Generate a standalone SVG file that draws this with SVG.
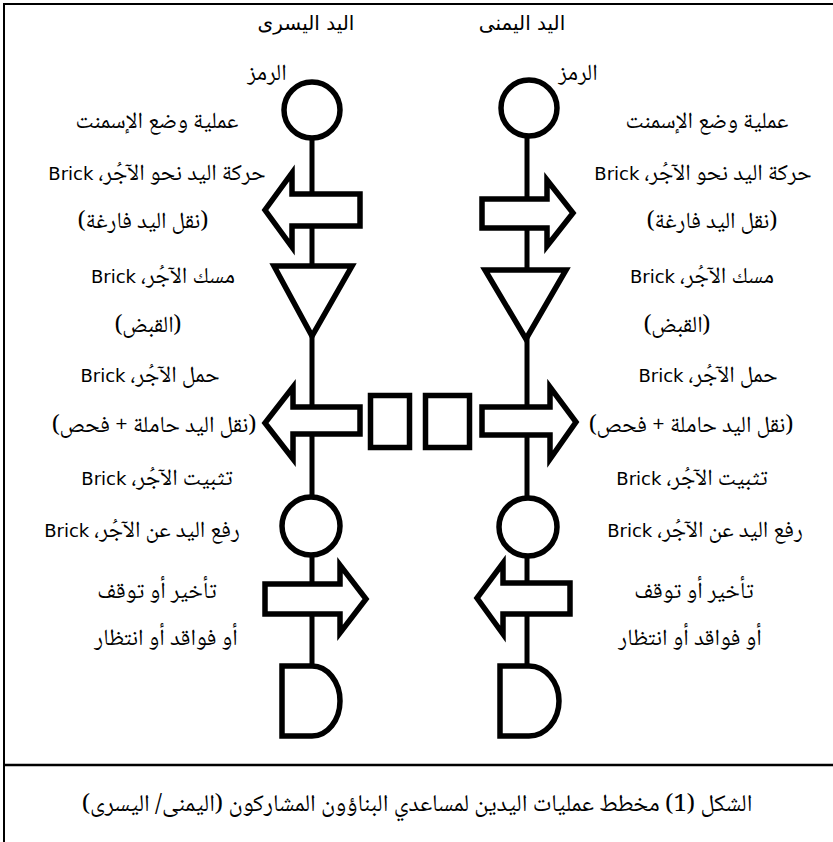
<svg xmlns="http://www.w3.org/2000/svg" width="833" height="842" viewBox="0 0 833 842">
  <style>
    .shape { fill: #fff; stroke: #000; stroke-width: 5.5; stroke-linejoin: miter; stroke-miterlimit: 10; }
    .link { stroke: #000; stroke-width: 5; fill: none; }
    .frame { fill: none; stroke: #000; stroke-width: 2; }
    .ar { font-family: 'Noto Naskh Arabic', 'Amiri', 'Scheherazade New', 'Liberation Serif', 'DejaVu Sans', serif; font-size: 23px; fill: #000; direction: rtl; text-anchor: middle; }
    .hd { font-family: 'DejaVu Sans', 'Noto Sans', sans-serif; font-size: 20px; fill: #000; direction: rtl; text-anchor: middle; }
    .en { font-family: 'DejaVu Sans', sans-serif; font-size: 18px; }
    .cap { font-size: 24px; }
  </style>

  <!-- outer frame and caption divider -->
  <rect class="frame" x="4" y="4" width="850" height="860"/>
  <line x1="4" y1="765" x2="833" y2="765" stroke="#000" stroke-width="2.5"/>

  <!-- connectors: the two vertical process lines -->
  <g id="connectors">
    <line class="link" x1="312" y1="136" x2="312" y2="666"/>
    <line class="link" x1="527" y1="134" x2="527" y2="666"/>
  </g>

  <!-- left hand -->
  <g id="left-operation"><circle class="shape" cx="312" cy="110" r="28"/></g>
  <g id="left-transport-empty"><polygon class="shape" points="360,194 292,194 292,173 265,210 292,247 292,226 360,226"/></g>
  <g id="left-grasp"><polygon class="shape" points="274,266 352,266 312,336"/></g>
  <g id="left-transport-loaded"><polygon class="shape" points="360,407 293,407 293,387 265,423 293,459 293,434 360,434"/></g>
  <g id="left-release"><circle class="shape" cx="311" cy="526" r="29"/></g>
  <g id="left-move"><polygon class="shape" points="265,584 340,584 340,565 366,599 340,633 340,614 265,614"/></g>
  <g id="left-delay"><path class="shape" d="M282,666 H312 A28,35 0 0 1 312,736 H282 Z"/></g>

  <!-- hold symbols between the hands -->
  <g id="hold-left"><rect class="shape" x="370.5" y="395.5" width="39" height="52"/></g>
  <g id="hold-right"><rect class="shape" x="425.5" y="395.5" width="44" height="52"/></g>

  <!-- right hand -->
  <g id="right-operation"><circle class="shape" cx="529" cy="108" r="28"/></g>
  <g id="right-transport-empty"><polygon class="shape" points="482,199 547,199 547,180 573,213 547,246 547,228 482,228"/></g>
  <g id="right-grasp"><polygon class="shape" points="485,270 566,270 526,339"/></g>
  <g id="right-transport-loaded"><polygon class="shape" points="482,407 550,407 550,387 576,422 550,459 550,435 482,435"/></g>
  <g id="right-release"><circle class="shape" cx="528" cy="527" r="29"/></g>
  <g id="right-move"><polygon class="shape" points="570,583 503,583 503,563 477,598 503,634 503,614 570,614"/></g>
  <g id="right-delay"><path class="shape" d="M500,666 H529 A30,35 0 0 1 529,736 H500 Z"/></g>

  <!-- left column labels -->
  <g id="left-labels">
    <text class="hd" x="306" y="30">اليد اليسرى</text>
    <text class="ar" x="267" y="80">الرمز</text>
    <text class="ar" x="157" y="128">عملية وضع الإسمنت</text>
    <text class="ar" x="157" y="180">حركة اليد نحو الآجُر، <tspan class="en">Brick</tspan></text>
    <text class="ar" x="143" y="228">(نقل اليد فارغة)</text>
    <text class="ar" x="163" y="283">مسك الآجُر، <tspan class="en">Brick</tspan></text>
    <text class="ar" x="148" y="332">(القبض)</text>
    <text class="ar" x="150" y="382">حمل الآجُر،  <tspan class="en">Brick</tspan></text>
    <text class="ar" x="154" y="432">(نقل اليد حاملة + فحص)</text>
    <text class="ar" x="157" y="485">تثبيت الآجُر،  <tspan class="en">Brick</tspan></text>
    <text class="ar" x="142" y="537">رفع اليد عن الآجُر،  <tspan class="en">Brick</tspan></text>
    <text class="ar" x="157" y="598">تأخير أو توقف</text>
    <text class="ar" x="166" y="645">أو فواقد أو انتظار</text>
  </g>

  <!-- right column labels -->
  <g id="right-labels">
    <text class="hd" x="522" y="30">اليد اليمنى</text>
    <text class="ar" x="578" y="80">الرمز</text>
    <text class="ar" x="707" y="128">عملية وضع الإسمنت</text>
    <text class="ar" x="703" y="180">حركة اليد نحو الآجُر، <tspan class="en">Brick</tspan></text>
    <text class="ar" x="712" y="228">(نقل اليد فارغة)</text>
    <text class="ar" x="702" y="283">مسك الآجُر، <tspan class="en">Brick</tspan></text>
    <text class="ar" x="677" y="332">(القبض)</text>
    <text class="ar" x="708" y="382">حمل الآجُر،  <tspan class="en">Brick</tspan></text>
    <text class="ar" x="691" y="432">(نقل اليد حاملة + فحص)</text>
    <text class="ar" x="692" y="485">تثبيت الآجُر،  <tspan class="en">Brick</tspan></text>
    <text class="ar" x="705" y="537">رفع اليد عن الآجُر،  <tspan class="en">Brick</tspan></text>
    <text class="ar" x="694" y="598">تأخير أو توقف</text>
    <text class="ar" x="690" y="645">أو فواقد أو انتظار</text>
  </g>

  <!-- caption -->
  <g id="caption">
    <text class="ar cap" x="417" y="811">الشكل (1) مخطط عمليات اليدين لمساعدي البناؤون المشاركون (اليمنى/ اليسرى)</text>
  </g>
</svg>
